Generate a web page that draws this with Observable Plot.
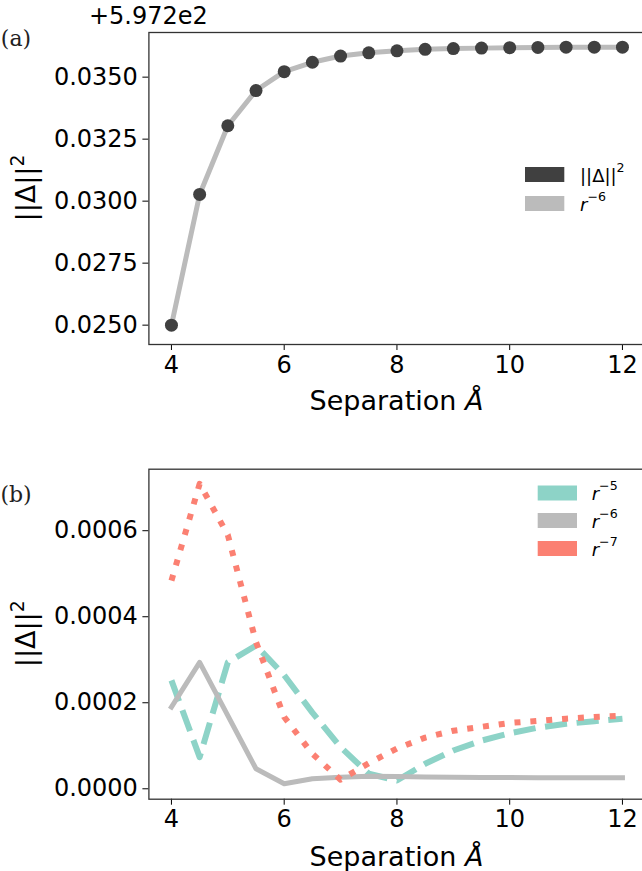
<!DOCTYPE html>
<html><head><meta charset="utf-8">
<script src="https://cdn.jsdelivr.net/npm/d3@7"></script>
<script src="https://cdn.jsdelivr.net/npm/@observablehq/plot@0.6"></script>
<style>
html,body{margin:0;padding:0;background:#fff;overflow:hidden;width:642px;height:871px}
#chart{position:relative;width:646px}
#chart svg{display:block}
</style></head><body><div id="chart"></div>
<script>
// ---- data ----
const separation = [4, 4.5, 5, 5.5, 6, 6.5, 7, 7.5, 8, 8.5, 9, 9.5, 10, 10.5, 11, 11.5, 12];
// panel (a): values shown relative to offset +5.972e2
const offsetLabel = "+5.972e2";
const deltaSq = [0.0250, 0.03027, 0.03304, 0.03446, 0.03522, 0.03560, 0.03585, 0.03598, 0.03606, 0.03612, 0.03615, 0.03617, 0.03619, 0.03620, 0.03621, 0.03621, 0.03621];
const r6FitA  = [0.0250, 0.03027, 0.03304, 0.03446, 0.03522, 0.03560, 0.03585, 0.03598, 0.03606, 0.03612, 0.03615, 0.03617, 0.03619, 0.03620, 0.03621, 0.03621, 0.03621];
// panel (b): residuals
const r5 = [0.000252, 0.0000736, 0.000294, 0.000333, 0.000264, 0.000177, 0.0000968, 0.0000349, 0.0000193, 0.0000581, 0.0000891, 0.000112, 0.000129, 0.000142, 0.000151, 0.000157, 0.000163];
const r6 = [0.000190, 0.000294, 0.000170, 0.0000465, 0.0000116, 0.0000233, 0.0000270, 0.0000293, 0.0000285, 0.0000275, 0.0000270, 0.0000265, 0.0000260, 0.0000258, 0.0000257, 0.0000256, 0.0000256];
const r7 = [0.000484, 0.000709, 0.000590, 0.000341, 0.000167, 0.0000814, 0.0000210, 0.0000596, 0.0000937, 0.000119, 0.000135, 0.000144, 0.000153, 0.000158, 0.000163, 0.000167, 0.000170];
const xTicks = [4, 6, 8, 10, 12];
const yTicksA = [0.0250, 0.0275, 0.0300, 0.0325, 0.0350];
const yTicksB = [0.0000, 0.0002, 0.0004, 0.0006];
const colors = {delta: "#404040", r5: "#8dd3c7", r6: "#bbbbbb", r7: "#fb8072"};

const W = 646;
const baseStyle = {fontFamily: "'DejaVu Sans', sans-serif", fontSize: "24px", color: "#000", background: "#fff", overflow: "visible"};

// ---- panel (a) ----
const dataA = separation.map((s, i) => ({s, d: deltaSq[i], r: r6FitA[i]}));
const plotA = Plot.plot({
  width: W, height: 436,
  marginTop: 32, marginBottom: 92, marginLeft: 148.4, marginRight: 1.5,
  style: baseStyle,
  x: {domain: [3.6, 12.4]},
  y: {domain: [0.02422, 0.03680]},
  marks: [
    Plot.line(dataA, {x: "s", y: "r", stroke: colors.r6, strokeWidth: 5, strokeLinejoin: "round", strokeLinecap: "square"}),
    Plot.dot(dataA, {x: "s", y: "d", r: 6.5, fill: colors.delta, stroke: "none"}),
    Plot.axisX({ticks: xTicks, tickSize: 6, tickPadding: 5, label: null, tickFormat: d => String(d)}),
    Plot.axisY({ticks: yTicksA, tickSize: 6, tickPadding: 5, label: null, tickFormat: d3.format(".4f")}),
    Plot.frame({stroke: "#333", strokeWidth: 1.3})
  ]
});

// ---- panel (b) ----
const series = [
  {key: "r5", vals: r5, color: colors.r5, dash: "22.2,9.6", cap: "butt", sw: 6},
  {key: "r6", vals: r6, color: colors.r6, dash: null, cap: "square", sw: 5},
  {key: "r7", vals: r7, color: colors.r7, dash: "6,9.9", cap: "butt", sw: 6}
];
const plotB = Plot.plot({
  width: W, height: 435,
  marginTop: 32.7, marginBottom: 72.3, marginLeft: 148.4, marginRight: 1.5,
  style: baseStyle,
  x: {domain: [3.6, 12.4]},
  y: {domain: [-0.0000242, 0.000743]},
  marks: [
    ...series.map(se => Plot.line(separation.map((s, i) => ({s, v: se.vals[i]})), {
      x: "s", y: "v", stroke: se.color, strokeWidth: se.sw,
      strokeDasharray: se.dash || undefined, strokeLinecap: se.cap, strokeLinejoin: "round"
    })),
    Plot.axisX({ticks: xTicks, tickSize: 6, tickPadding: 5, label: null, tickFormat: d => String(d)}),
    Plot.axisY({ticks: yTicksB, tickSize: 6, tickPadding: 5, label: null, tickFormat: d3.format(".4f")}),
    Plot.frame({stroke: "#333", strokeWidth: 1.3})
  ]
});

// ---- text helpers ----
function supText(g, x, y, parts, opts = {}) {
  const t = g.append("text").attr("x", x).attr("y", y)
    .attr("font-family", opts.family || "'DejaVu Sans', sans-serif")
    .attr("font-size", opts.size || 24)
    .attr("fill", "#000")
    .attr("text-anchor", opts.anchor || "start");
  if (opts.baseline) t.attr("dominant-baseline", opts.baseline);
  if (opts.transform) t.attr("transform", opts.transform);
  let raised = false;
  for (const p of parts) {
    const ts = t.append("tspan").text(p.text);
    if (p.italic) ts.attr("font-style", "italic");
    if (p.sup && !raised) { ts.attr("font-size", (opts.size || 24) * 0.7).attr("dy", -(opts.size || 24) * 0.42); raised = true; }
  }
  return t;
}
const deltaLabel = [{text: "||Δ||"}, {text: "2", sup: true}];
const rLabel = n => [{text: "r", italic: true}, {text: "−" + n, sup: true}];
const sepLabel = [{text: "Separation "}, {text: "Å", italic: true}];

function decorate(svg, o) {
  const g = d3.select(svg).append("g");
  // panel letter
  g.append("text").attr("x", 16).attr("y", o.letterY).attr("font-family", "'DejaVu Serif', serif")
    .attr("font-size", 22).attr("font-weight", 300).attr("fill", "#222").text(o.letter);
  // y label
  supText(g, 0, 0, deltaLabel, {size: 27, anchor: "middle", transform: `translate(35,${o.yMid}) rotate(-90)`});
  // x label
  supText(g, 396.5, o.xLabelY, sepLabel, {size: 27, anchor: "middle"});
  // legend
  o.legend.forEach(l => {
    g.append("rect").attr("x", o.legX).attr("y", l.y - 7.5).attr("width", 39.3).attr("height", 15).attr("fill", l.color);
    supText(g, o.legTextX, l.y, l.parts, {size: 18, baseline: "central"});
  });
  if (o.offset) g.append("text").attr("x", 148.4).attr("y", 24).attr("font-family", "'DejaVu Sans', sans-serif")
    .attr("font-size", 24).attr("fill", "#000").text(o.offset);
}

decorate(plotA, {
  letter: "(a)", letterY: 46, yMid: 188, xLabelY: 410, offset: offsetLabel,
  legX: 525, legTextX: 580,
  legend: [{y: 174.5, color: colors.delta, parts: deltaLabel}, {y: 203.5, color: colors.r6, parts: rLabel(6)}]
});
decorate(plotB, {
  letter: "(b)", letterY: 66, yMid: 197.7, xLabelY: 430,
  legX: 537.7, legTextX: 591.7,
  legend: [{y: 57, color: colors.r5, parts: rLabel(5)}, {y: 84.5, color: colors.r6, parts: rLabel(6)}, {y: 112.5, color: colors.r7, parts: rLabel(7)}]
});

document.getElementById("chart").append(plotA, plotB);
</script></body></html>
